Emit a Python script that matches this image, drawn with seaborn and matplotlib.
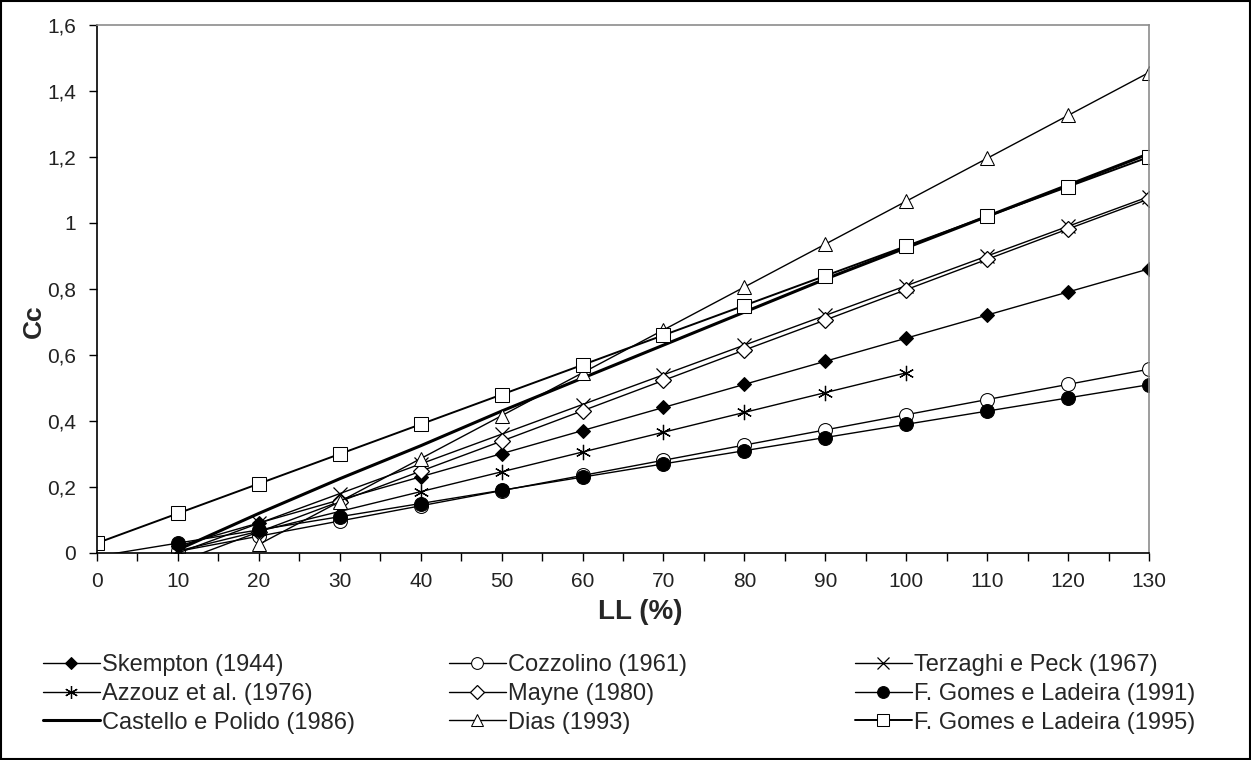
import numpy as np
import pandas as pd
import matplotlib
matplotlib.use("Agg")
import matplotlib.pyplot as plt
import seaborn as sns
from matplotlib.patches import Rectangle
from matplotlib.ticker import FuncFormatter, MultipleLocator

sns.set_theme(style="white")
plt.rcParams['font.family'] = ['Liberation Sans', 'DejaVu Sans']

LL = [10, 20, 30, 40, 50, 60, 70, 80, 90, 100, 110, 120, 130]
LL0 = [0] + LL
LL_dias = LL[1:]
LL_azz = LL[:10]

skempton = [0.021, 0.091, 0.161, 0.231, 0.301, 0.371, 0.441, 0.511, 0.581, 0.651, 0.721, 0.791, 0.861]
cozzolino = [0.005, 0.051, 0.097, 0.143, 0.189, 0.235, 0.281, 0.327, 0.373, 0.419, 0.465, 0.511, 0.557]
terzaghi = [0.0, 0.09, 0.18, 0.27, 0.36, 0.45, 0.54, 0.63, 0.72, 0.81, 0.90, 0.99, 1.08]
azzouz = [0.006, 0.066, 0.126, 0.186, 0.246, 0.306, 0.366, 0.426, 0.486, 0.546]
mayne = [-0.028, 0.064, 0.156, 0.248, 0.339, 0.431, 0.523, 0.615, 0.706, 0.798, 0.890, 0.982, 1.073]
gomes91 = [-0.01, 0.03, 0.07, 0.11, 0.15, 0.19, 0.23, 0.27, 0.31, 0.35, 0.39, 0.43, 0.47, 0.51]
castello = [0.01, 0.12, 0.225, 0.325, 0.43, 0.53, 0.63, 0.73, 0.83, 0.925, 1.02, 1.115, 1.21]
dias = [0.026, 0.156, 0.286, 0.416, 0.546, 0.676, 0.806, 0.936, 1.066, 1.196, 1.326, 1.456]
gomes95 = [0.03, 0.12, 0.21, 0.30, 0.39, 0.48, 0.57, 0.66, 0.75, 0.84, 0.93, 1.02, 1.11, 1.20]

y_ticks = [0, 0.2, 0.4, 0.6, 0.8, 1.0, 1.2, 1.4, 1.6]

series = [
    ("Skempton (1944)", LL, skempton, dict(marker="D", markersize=7, markerfacecolor="black", lw=1.0)),
    ("Cozzolino (1961)", LL, cozzolino, dict(marker="o", markersize=10, markerfacecolor="white", lw=1.0)),
    ("Terzaghi e Peck (1967)", LL, terzaghi, dict(marker="x", markersize=10, markerfacecolor="white", lw=1.0, markeredgewidth=0.9)),
    ("Azzouz et al. (1976)", LL_azz, azzouz, dict(marker=(6, 2, 0), markersize=11, lw=1.0, markeredgewidth=0.9)),
    ("Mayne (1980)", LL, mayne, dict(marker="D", markersize=8, markerfacecolor="white", lw=1.0, markeredgewidth=0.9, markevery=list(range(1, 13)))),
    ("F. Gomes e Ladeira (1991)", LL0, gomes91, dict(marker="o", markersize=10, markerfacecolor="black", lw=1.0, markevery=list(range(1, 14)))),
    ("Castello e Polido (1986)", LL, castello, dict(marker=None, lw=2.2)),
    ("Dias (1993)", LL_dias, dias, dict(marker="^", markersize=10, markerfacecolor="white", lw=1.0)),
    ("F. Gomes e Ladeira (1995)", LL0, gomes95, dict(marker="s", markersize=10, markerfacecolor="white", lw=1.4)),
]

fig = plt.figure(figsize=(12.51, 7.60), dpi=100)
ax = fig.add_axes([97/1251, 1-553/760, (1149-97)/1251, (553-25)/760])

handles = []
for name, xs, ys, kw in series:
    df = pd.DataFrame({"LL": xs, "Cc": ys})
    sns.lineplot(data=df, x="LL", y="Cc", ax=ax, color="black", markeredgecolor="black",
                 label=name, legend=False, **kw)
    handles.append(ax.lines[-1])

ax.set_xlim(0, 130)
ax.set_ylim(0, 1.6)
ax.xaxis.set_major_locator(MultipleLocator(10))
ax.xaxis.set_minor_locator(MultipleLocator(5))
ax.set_yticks(y_ticks)

def fmt(v, pos):
    s = ("%.1f" % v)
    if s.endswith(".0"):
        s = s[:-2]
    return s.replace(".", ",")
ax.yaxis.set_major_formatter(FuncFormatter(fmt))
ax.xaxis.set_major_formatter(FuncFormatter(lambda v, p: "%d" % v))

ax.tick_params(axis="both", which="both", direction="out", length=6, width=1.0,
               color="black", labelsize=15, labelcolor="#222222", bottom=True, left=True)
ax.tick_params(axis="y", which="minor", left=False)
ax.tick_params(axis="x", which="major", pad=8)
ax.tick_params(axis="y", which="major", pad=9)
for side in ["left", "bottom"]:
    ax.spines[side].set_color("black")
    ax.spines[side].set_linewidth(1.2)
for side in ["top", "right"]:
    ax.spines[side].set_color("#8c8c8c")
    ax.spines[side].set_linewidth(1.2)

ax.set_xlabel("LL (%)", fontsize=20, fontweight="bold")
ax.xaxis.set_label_coords((640-97)/1052, (553-612)/528)
ax.xaxis.label.set_va("center")
ax.set_ylabel("Cc", fontsize=19, fontweight="bold")
ax.yaxis.set_label_coords((34-97)/1052, (553-321)/528)
ax.yaxis.label.set_va("center")

cols = [(43, [0, 3, 6]), (449, [1, 4, 7]), (855, [2, 5, 8])]
for xpix, idx in cols:
    leg = fig.legend([handles[i] for i in idx], [series[i][0] for i in idx], ncol=1,
                     loc="upper left", bbox_to_anchor=(xpix/1251, 1-654/760), frameon=False,
                     fontsize=17, handlelength=2.4, handletextpad=0.1,
                     labelspacing=0.29, borderaxespad=0, borderpad=0, markerscale=0.85)

fig.patches.append(Rectangle((0.001, 0.001), 0.998, 0.998, transform=fig.transFigure,
                             fill=False, edgecolor="black", lw=1.5))

fig.savefig("out.png", dpi=100)
